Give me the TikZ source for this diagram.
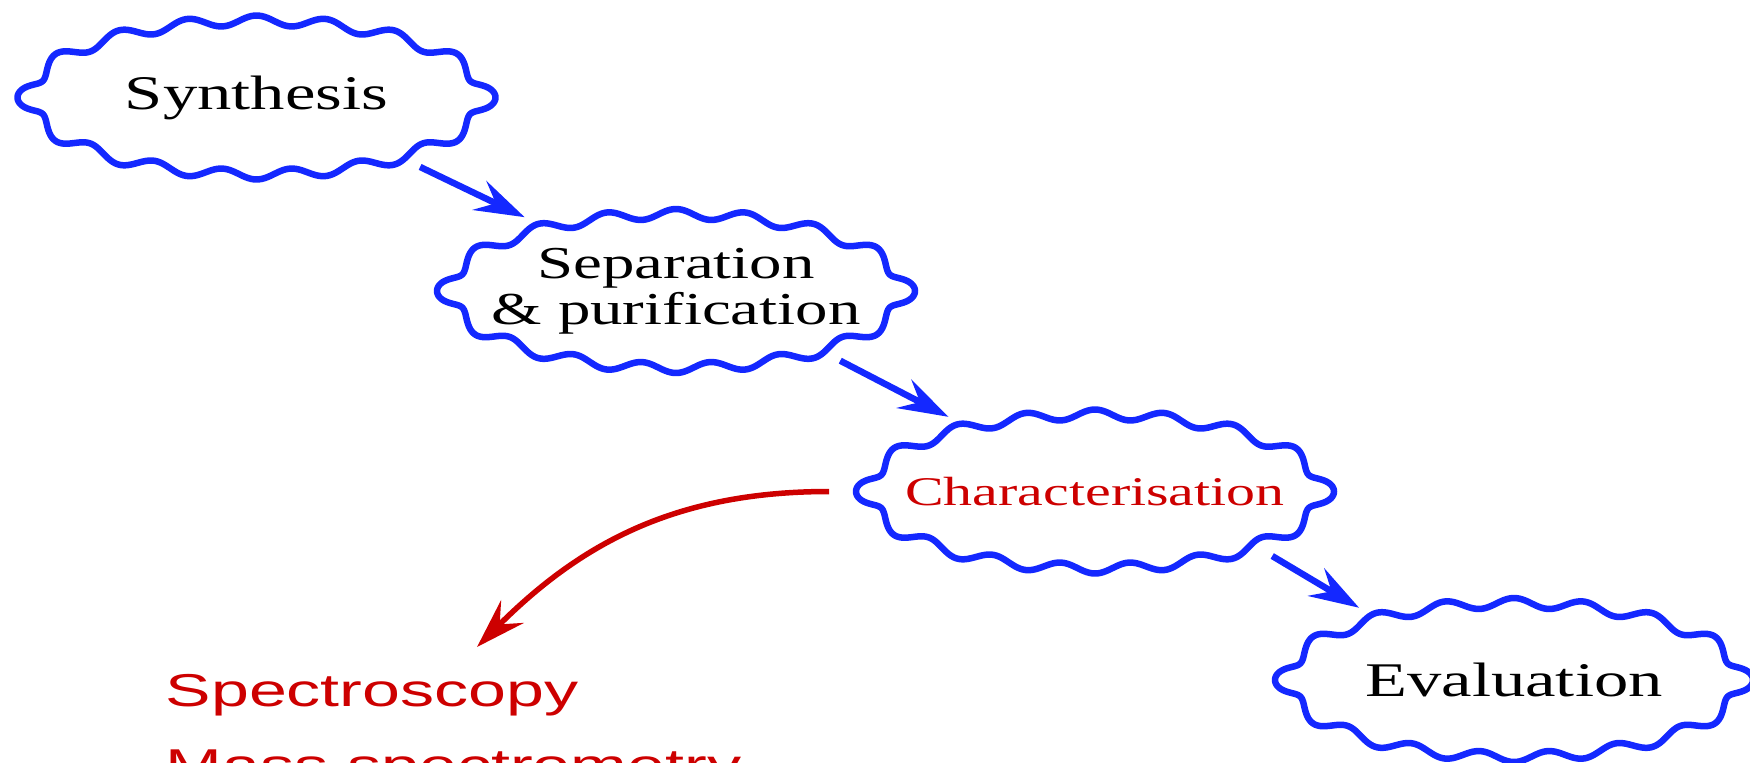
\documentclass[tikz,border=0pt]{standalone}
\usepackage{fontspec}
\usepackage{tikz}
\usetikzlibrary{shapes.geometric,arrows.meta}
\newfontfamily\widerm[FakeStretch=1.42]{Liberation Serif}
\newfontfamily\widesf[FakeStretch=1.48]{Liberation Sans}
\definecolor{stepblue}{RGB}{20,40,255}
\definecolor{stepred}{RGB}{205,0,0}

\begin{document}
\begin{tikzpicture}[
		cloudbox/.style={ellipse, minimum width=46mm, minimum height=15.4mm,
			inner xsep=-4mm, outer sep=1.6mm,
			font=\widerm\fontsize{13.75}{15}\selectfont},
		ring/.style={draw=stepblue, line width=0.65mm, line join=round},
		flow/.style={draw=stepblue, line width=0.65mm,
			-{Stealth[length=5mm, width=3.2mm, inset=1.8mm]}},
		declare function={
			wig(\t) = (0.05 + 0.02*cos(\t)^2)*cos(16*(\t - 8.59*sin(2*\t))) + 0.05*exp(-(sin(\t)/0.17)^2);
			nrm(\t) = sqrt((0.77*cos(\t))^2 + (2.27*sin(\t))^2);
		},
	]
			% page
			\useasboundingbox (0,0) rectangle (17.5,-7.62);
			\clip (0,0) rectangle (17.5,-7.62);
			% steps
			\node[cloudbox] (synth) at (2.565,-0.975) {Synthesis};
			\node[cloudbox, align=center, font=\widerm\fontsize{13}{13.2}\selectfont]
				(separ) at (6.76,-2.91) {Separation\\\& purification};
			\node[cloudbox, text=stepred, font=\widerm\fontsize{11.6}{13}\selectfont]
				(charac) at (10.95,-4.915) {Characterisation};
			\node[cloudbox] (evalu) at (15.14,-6.8) {Evaluation};
			% wavy outlines
			\foreach \n in {synth,separ,charac,evalu}
				\draw[ring, shift={(\n.center)}] plot[domain=0:360, samples=541, variable=\t]
					({2.27*cos(\t) + wig(\t)*0.77*cos(\t)/nrm(\t)},
					 {0.77*sin(\t) + wig(\t)*2.27*sin(\t)/nrm(\t)}) -- cycle;
			\draw[flow] (synth.-23) -- (separ.154);
			\draw[flow] (separ.-23) -- (charac.153);
			\draw[flow] (charac.-20) -- (evalu.155);
			% methods
			\node[anchor=base west, align=left, inner sep=0pt, text=stepred,
				font=\widesf\fontsize{13.1}{21.3}\selectfont]
				(methods) at (1.65,-7.81) {Spectroscopy\\Mass spectrometry};
			\coordinate (target) at (4.77,-6.47);
			\draw[stepred, line width=0.55mm, -{Stealth[length=5mm, width=3.2mm, inset=1.8mm]}]
				([xshift=-2mm]charac.west) to[out=180, in=45] (target);
		\end{tikzpicture}
\end{document}
